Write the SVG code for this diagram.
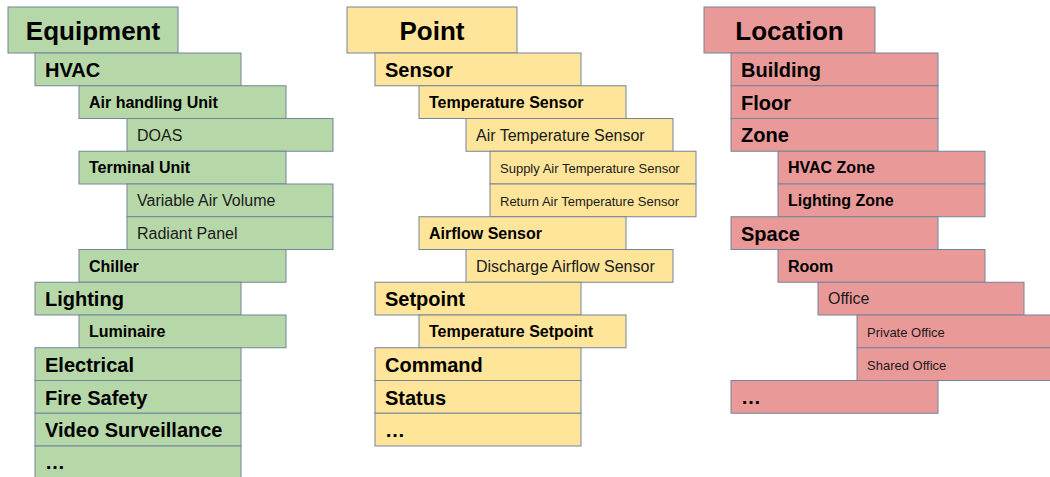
<svg xmlns="http://www.w3.org/2000/svg" width="1050" height="477" viewBox="0 0 1050 477">
<style>
.n rect{stroke:#74849a;stroke-width:1}
.g rect{fill:#b6d7a8}
.y rect{fill:#ffe599}
.r rect{fill:#ea9999}
text{font-family:"Liberation Sans",Arial,sans-serif;fill:#000}
.h{font-size:26px;font-weight:bold;text-anchor:middle}
.l1{font-size:20px;font-weight:bold}
.l2{font-size:16px;font-weight:bold}
.l3{font-size:16px;fill:#1a1a1a}
.l4{font-size:13px;fill:#1a1a1a}
</style>
<g id="connectors"/>
<g class="n g">
<g id="equipment"><rect x="8" y="7" width="170" height="46"/><text class="h" x="93" y="40">Equipment</text></g>
<g id="hvac"><rect x="35" y="53" width="206" height="32.75"/><text class="l1" x="45" y="77">HVAC</text></g>
<g id="ahu"><rect x="79" y="85.75" width="207" height="32.75"/><text class="l2" x="89" y="108">Air handling Unit</text></g>
<g id="doas"><rect x="127" y="118.5" width="206" height="32.75"/><text class="l3" x="137" y="140.5">DOAS</text></g>
<g id="terminal-unit"><rect x="79" y="151.25" width="207" height="32.75"/><text class="l2" x="89" y="173">Terminal Unit</text></g>
<g id="vav"><rect x="127" y="184" width="206" height="32.75"/><text class="l3" x="137" y="206">Variable Air Volume</text></g>
<g id="radiant-panel"><rect x="127" y="216.75" width="206" height="32.75"/><text class="l3" x="137" y="239">Radiant Panel</text></g>
<g id="chiller"><rect x="79" y="249.5" width="207" height="32.75"/><text class="l2" x="89" y="271.5">Chiller</text></g>
<g id="lighting"><rect x="35" y="282.25" width="206" height="32.75"/><text class="l1" x="45" y="306">Lighting</text></g>
<g id="luminaire"><rect x="79" y="315" width="207" height="32.75"/><text class="l2" x="89" y="337">Luminaire</text></g>
<g id="electrical"><rect x="35" y="347.75" width="206" height="32.75"/><text class="l1" x="45" y="372">Electrical</text></g>
<g id="fire-safety"><rect x="35" y="380.5" width="206" height="32.75"/><text class="l1" x="45" y="404.5">Fire Safety</text></g>
<g id="video-surveillance"><rect x="35" y="413.25" width="206" height="32.75"/><text class="l1" x="45" y="437">Video Surveillance</text></g>
<g id="equipment-more"><rect x="35" y="446" width="206" height="32.75"/><text class="l1" x="45" y="469">…</text></g>
</g>
<g class="n y">
<g id="point"><rect x="347" y="7" width="170" height="46"/><text class="h" x="432" y="40">Point</text></g>
<g id="sensor"><rect x="375" y="53" width="206" height="32.75"/><text class="l1" x="385" y="77">Sensor</text></g>
<g id="temperature-sensor"><rect x="419" y="85.75" width="207" height="32.75"/><text class="l2" x="429" y="108">Temperature Sensor</text></g>
<g id="air-temperature-sensor"><rect x="466" y="118.5" width="207" height="32.75"/><text class="l3" x="476" y="140.5">Air Temperature Sensor</text></g>
<g id="supply-air-temperature-sensor"><rect x="490" y="151.25" width="206" height="32.75"/><text class="l4" x="500" y="172.5">Supply Air Temperature Sensor</text></g>
<g id="return-air-temperature-sensor"><rect x="490" y="184" width="206" height="32.75"/><text class="l4" x="500" y="205.5">Return Air Temperature Sensor</text></g>
<g id="airflow-sensor"><rect x="419" y="216.75" width="207" height="32.75"/><text class="l2" x="429" y="239">Airflow Sensor</text></g>
<g id="discharge-airflow-sensor"><rect x="466" y="249.5" width="207" height="32.75"/><text class="l3" x="476" y="272">Discharge Airflow Sensor</text></g>
<g id="setpoint"><rect x="375" y="282.25" width="206" height="32.75"/><text class="l1" x="385" y="306">Setpoint</text></g>
<g id="temperature-setpoint"><rect x="419" y="315" width="207" height="32.75"/><text class="l2" x="429" y="337">Temperature Setpoint</text></g>
<g id="command"><rect x="375" y="347.75" width="206" height="32.75"/><text class="l1" x="385" y="372">Command</text></g>
<g id="status"><rect x="375" y="380.5" width="206" height="32.75"/><text class="l1" x="385" y="404.5">Status</text></g>
<g id="point-more"><rect x="375" y="413.25" width="206" height="32.75"/><text class="l1" x="385" y="436.5">…</text></g>
</g>
<g class="n r">
<g id="location"><rect x="704" y="7" width="171" height="46"/><text class="h" x="789.5" y="40">Location</text></g>
<g id="building"><rect x="731" y="53" width="207" height="32.75"/><text class="l1" x="741" y="77">Building</text></g>
<g id="floor"><rect x="731" y="85.75" width="207" height="32.75"/><text class="l1" x="741" y="109.5">Floor</text></g>
<g id="zone"><rect x="731" y="118.5" width="207" height="32.75"/><text class="l1" x="741" y="142">Zone</text></g>
<g id="hvac-zone"><rect x="778" y="151.25" width="207" height="32.75"/><text class="l2" x="788" y="173">HVAC Zone</text></g>
<g id="lighting-zone"><rect x="778" y="184" width="207" height="32.75"/><text class="l2" x="788" y="206">Lighting Zone</text></g>
<g id="space"><rect x="731" y="216.75" width="207" height="32.75"/><text class="l1" x="741" y="241">Space</text></g>
<g id="room"><rect x="778" y="249.5" width="207" height="32.75"/><text class="l2" x="788" y="271.5">Room</text></g>
<g id="office"><rect x="818" y="282.25" width="206" height="32.75"/><text class="l3" x="828" y="304">Office</text></g>
<g id="private-office"><rect x="857" y="315" width="210" height="32.75"/><text class="l4" x="867" y="336.5">Private Office</text></g>
<g id="shared-office"><rect x="857" y="347.75" width="210" height="32.75"/><text class="l4" x="867" y="369.5">Shared Office</text></g>
<g id="location-more"><rect x="731" y="380.5" width="207" height="32.75"/><text class="l1" x="741" y="403.5">…</text></g>
</g>
</svg>
